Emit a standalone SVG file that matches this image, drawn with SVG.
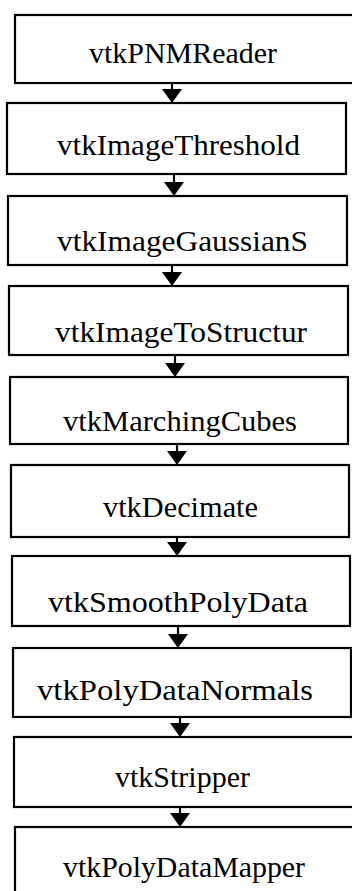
<svg xmlns="http://www.w3.org/2000/svg" width="352" height="891" viewBox="0 0 352 891">
<style>
.box{fill:#fff;stroke:#000;stroke-width:2.2}
text{font-family:'Liberation Serif','DejaVu Serif','Noto Serif',serif;font-size:29px;fill:#000}
.shaft{stroke:#000;stroke-width:2.2;fill:none}
.head{fill:#000}
</style>
<rect width="352" height="891" fill="#fff"/>
<g id="connectors">
<line class="shaft" x1="172" y1="83" x2="172" y2="90"/><polygon class="head" points="162,89 182,89 172,103"/>
<line class="shaft" x1="174" y1="174" x2="174" y2="183"/><polygon class="head" points="164,182 184,182 174,196"/>
<line class="shaft" x1="172" y1="265" x2="172" y2="273"/><polygon class="head" points="162,272 182,272 172,286"/>
<line class="shaft" x1="175" y1="355" x2="175" y2="364"/><polygon class="head" points="165,363 185,363 175,377"/>
<line class="shaft" x1="177" y1="444" x2="177" y2="452"/><polygon class="head" points="167,451 187,451 177,465"/>
<line class="shaft" x1="177" y1="537" x2="177" y2="543"/><polygon class="head" points="167,542 187,542 177,556"/>
<line class="shaft" x1="178" y1="626" x2="178" y2="635"/><polygon class="head" points="168,634 188,634 178,648"/>
<line class="shaft" x1="180" y1="717" x2="180" y2="724"/><polygon class="head" points="170,723 190,723 180,737"/>
<line class="shaft" x1="180" y1="807" x2="180" y2="814"/><polygon class="head" points="170,813 190,813 180,827"/>
</g>
<g id="n1"><rect class="box" x="15" y="15" width="345" height="68"/><text x="89" y="63" textLength="188" lengthAdjust="spacingAndGlyphs">vtkPNMReader</text></g>
<g id="n2"><rect class="box" x="7" y="103" width="339" height="71"/><text x="57" y="155" textLength="243" lengthAdjust="spacingAndGlyphs">vtkImageThreshold</text></g>
<g id="n3"><rect class="box" x="8" y="196" width="339" height="69"/><text x="57" y="251" textLength="251" lengthAdjust="spacingAndGlyphs">vtkImageGaussianS</text></g>
<g id="n4"><rect class="box" x="9" y="286" width="339" height="69"/><text x="55" y="342" textLength="252" lengthAdjust="spacingAndGlyphs">vtkImageToStructur</text></g>
<g id="n5"><rect class="box" x="10" y="377" width="338" height="67"/><text x="63" y="431" textLength="234" lengthAdjust="spacingAndGlyphs">vtkMarchingCubes</text></g>
<g id="n6"><rect class="box" x="11" y="465" width="338" height="72"/><text x="103" y="517" textLength="155" lengthAdjust="spacingAndGlyphs">vtkDecimate</text></g>
<g id="n7"><rect class="box" x="12" y="556" width="338" height="70"/><text x="48" y="612" textLength="260" lengthAdjust="spacingAndGlyphs">vtkSmoothPolyData</text></g>
<g id="n8"><rect class="box" x="13" y="648" width="338" height="69"/><text x="37" y="700" textLength="276" lengthAdjust="spacingAndGlyphs">vtkPolyDataNormals</text></g>
<g id="n9"><rect class="box" x="14" y="737" width="346" height="70"/><text x="115" y="787" textLength="135" lengthAdjust="spacingAndGlyphs">vtkStripper</text></g>
<g id="n10"><rect class="box" x="15" y="827" width="345" height="80"/><text x="63" y="877" textLength="242" lengthAdjust="spacingAndGlyphs">vtkPolyDataMapper</text></g>
</svg>
